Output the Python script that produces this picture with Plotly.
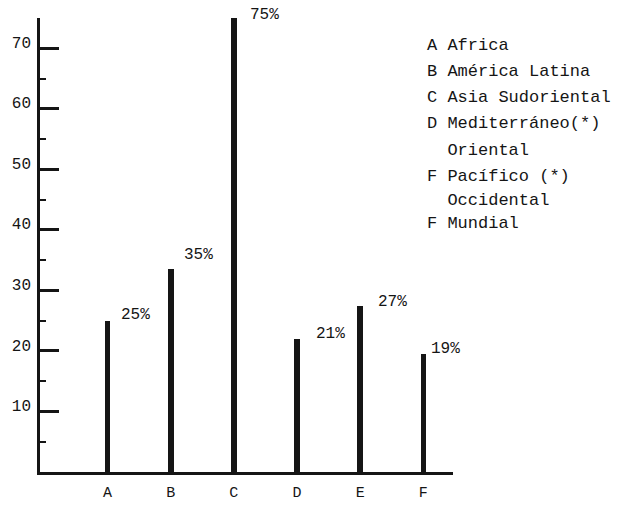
import plotly.graph_objects as go

categories = ["A", "B", "C", "D", "E", "F"]
positions = [1, 2, 3, 4, 5, 6]
bar_heights = [25, 33.5, 75, 22, 27.5, 19.5]
bar_labels = ["25%", "35%", "75%", "21%", "27%", "19%"]
y_ticks = [10, 20, 30, 40, 50, 60, 70]
y_minor_ticks = [5, 15, 25, 35, 45, 55, 65]
legend_lines = ["A Africa", "B América Latina", "C Asia Sudoriental",
                "D Mediterráneo(*)", "  Oriental", "F Pacífico (*)",
                "  Occidental", "F Mundial"]

# styling / placement (pixels)
label_dx = [11, 11, 14, 17, 16, 6]
label_dy = [6, 14, 3, 5, 4, 5]
legend_row_px = [47, 73, 100, 127, 155, 182, 207, 231]
legend_x_px = 425

W, H = 619, 514
ML, MR, MT, MB = 40, 166, 18, 25
plot_h = H - MT - MB
plot_w = W - ML - MR

font_mono = "Liberation Mono, Courier New, monospace"
ink = "#151515"

fig = go.Figure()
fig.add_trace(go.Bar(x=positions, y=bar_heights, width=0.088,
                     marker=dict(color=ink, line=dict(width=0)),
                     showlegend=False, hoverinfo="skip"))

for xp, h, lab, dx, dy in zip(positions, bar_heights, bar_labels, label_dx, label_dy):
    fig.add_annotation(x=xp, y=h, text=lab, showarrow=False,
                       xanchor="left", yanchor="middle", xshift=dx, yshift=dy,
                       font=dict(family=font_mono, size=16, color=ink))

for line, ypx in zip(legend_lines, legend_row_px):
    fig.add_annotation(xref="paper", yref="paper",
                       x=(legend_x_px - ML) / plot_w,
                       y=1 - (ypx - MT) / plot_h,
                       text=line.replace(" ", "&nbsp;"), showarrow=False,
                       xanchor="left", yanchor="middle",
                       font=dict(family=font_mono, size=17, color=ink))

fig.update_layout(
    width=W, height=H,
    margin=dict(l=ML, r=MR, t=MT, b=MB, pad=0),
    paper_bgcolor="white", plot_bgcolor="white",
    bargap=0,
)
fig.update_xaxes(range=[-0.07, 6.47], tickvals=positions, ticktext=categories,
                 showgrid=False, zeroline=False, showline=True,
                 linecolor=ink, linewidth=2.5, ticks="",
                 ticklabelstandoff=4,
                 tickfont=dict(family=font_mono, size=15, color=ink))
fig.update_yaxes(range=[0, 75], tickvals=y_ticks, showgrid=False,
                 zeroline=False, showline=True, linecolor=ink, linewidth=2.5,
                 ticks="inside", ticklen=19, tickwidth=2.5, tickcolor=ink,
                 ticklabelstandoff=3, ticklabelshift=-6,
                 minor=dict(tickvals=y_minor_ticks,
                            ticks="inside", ticklen=6, tickwidth=2,
                            tickcolor=ink),
                 tickfont=dict(family=font_mono, size=16, color=ink))

fig.write_html("out.html", config={"displayModeBar": False},
               post_script="document.body.style.margin='0';document.body.style.overflow='hidden';")
